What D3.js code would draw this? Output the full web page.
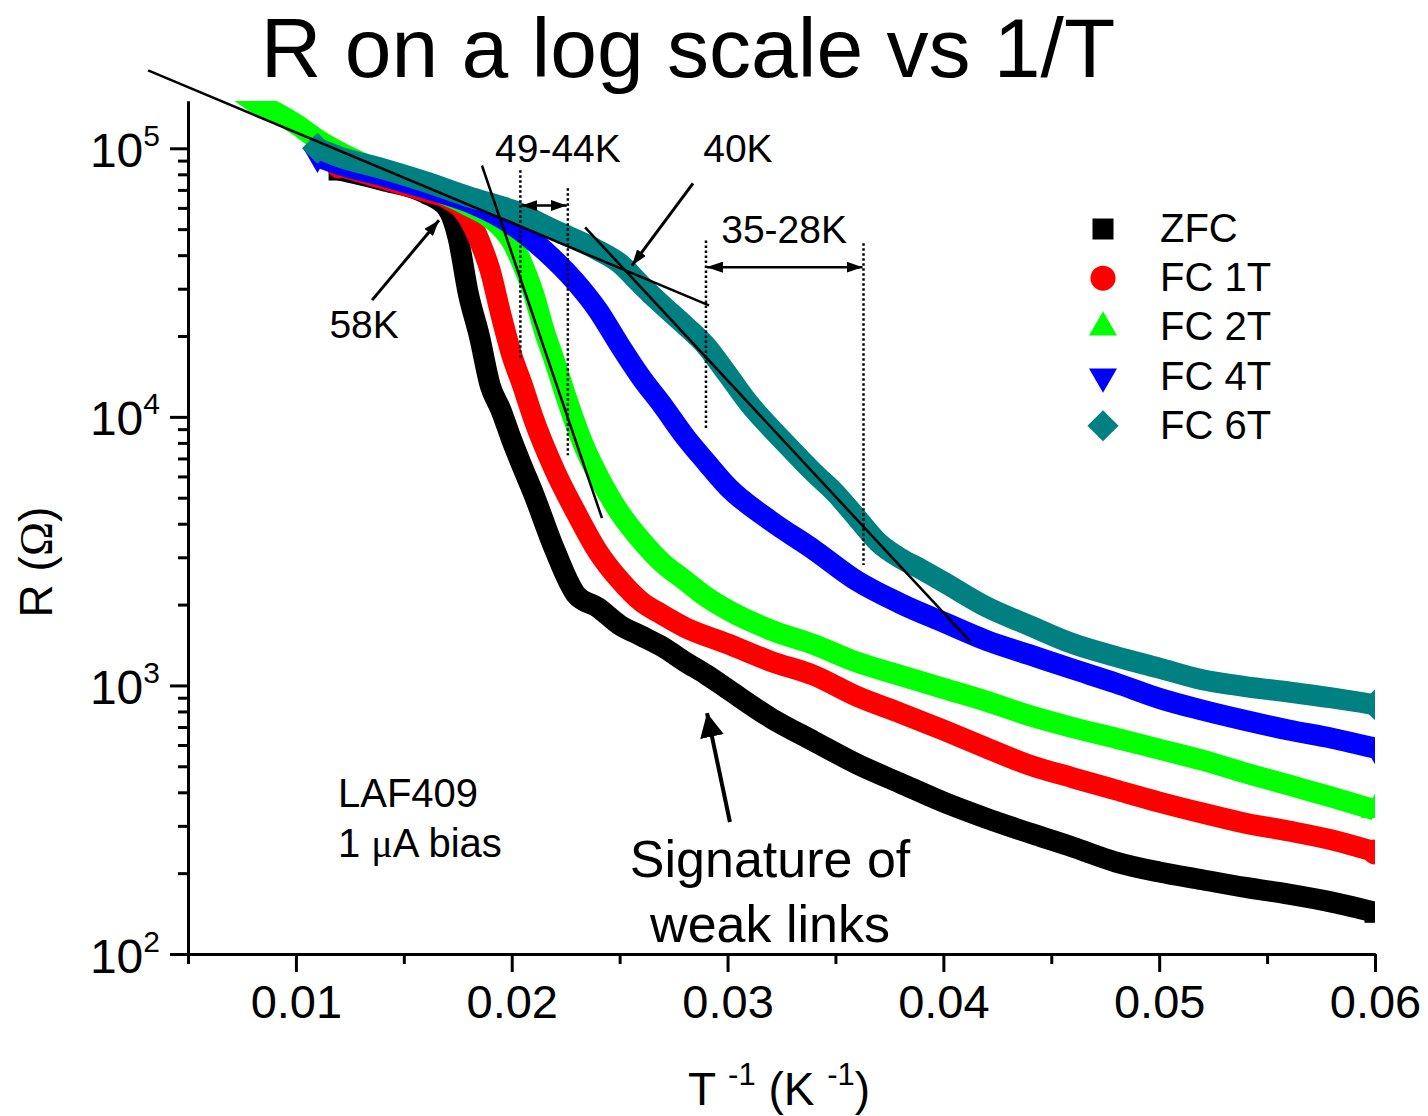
<!DOCTYPE html>
<html>
<head>
<meta charset="utf-8">
<script src="https://cdn.jsdelivr.net/npm/d3@7"></script>
<style>
body { margin: 0; background: #fff; }
text { font-family: "Liberation Sans", Arial, sans-serif; fill: #000; }
</style>
</head>
<body>
<script>
// values: inverse temperature (1/K) and resistance (ohm)
var invT_zfc = [0.012, 0.014, 0.016, 0.017, 0.0175, 0.018, 0.0185, 0.019, 0.0195, 0.020, 0.0205, 0.021, 0.022, 0.023, 0.024, 0.025, 0.026, 0.027, 0.028, 0.029, 0.030, 0.032, 0.034, 0.036, 0.038, 0.040, 0.042, 0.044, 0.046, 0.048, 0.050, 0.052, 0.054, 0.056, 0.058, 0.060];
var R_zfc = [83000, 76000, 68000, 60000, 47000, 28500, 20000, 13100, 10600, 8200, 6500, 5200, 3190, 2170, 1950, 1680, 1530, 1390, 1230, 1100, 970, 757, 620, 510, 433, 368, 320, 282, 250, 220, 202, 189, 177, 167, 156, 143];

var invT_1T = [0.012, 0.014, 0.016, 0.017, 0.018, 0.0185, 0.019, 0.0195, 0.020, 0.0205, 0.021, 0.022, 0.023, 0.024, 0.025, 0.026, 0.027, 0.028, 0.030, 0.032, 0.034, 0.036, 0.038, 0.040, 0.042, 0.044, 0.046, 0.048, 0.050, 0.052, 0.054, 0.056, 0.058, 0.060];
var R_1T = [86000, 77000, 69000, 65000, 55000, 45400, 35100, 24000, 17000, 13100, 9900, 6300, 4370, 3140, 2470, 2050, 1830, 1650, 1430, 1230, 1090, 910, 790, 682, 585, 505, 453, 408, 368, 335, 307, 287, 266, 240];

var invT_2T = [0.007, 0.0075, 0.008, 0.009, 0.010, 0.011, 0.012, 0.014, 0.016, 0.018, 0.019, 0.020, 0.0205, 0.021, 0.0215, 0.022, 0.0225, 0.023, 0.0235, 0.024, 0.025, 0.026, 0.027, 0.028, 0.029, 0.030, 0.032, 0.034, 0.036, 0.038, 0.040, 0.042, 0.044, 0.046, 0.048, 0.050, 0.052, 0.054, 0.056, 0.058, 0.060];
var R_2T = [170000, 160000, 150000, 137000, 123000, 108000, 97000, 82000, 72000, 61000, 55000, 45000, 37000, 29000, 21000, 16000, 12000, 9200, 7300, 6050, 4400, 3470, 2850, 2470, 2140, 1910, 1610, 1420, 1220, 1090, 975, 873, 772, 697, 636, 579, 527, 472, 426, 384, 344];

var invT_4T = [0.011, 0.012, 0.014, 0.016, 0.018, 0.020, 0.0215, 0.023, 0.024, 0.025, 0.026, 0.027, 0.028, 0.029, 0.030, 0.032, 0.034, 0.036, 0.038, 0.040, 0.042, 0.044, 0.046, 0.048, 0.050, 0.052, 0.054, 0.056, 0.058, 0.060];
var R_4T = [93000, 87000, 79000, 71000, 63000, 52000, 41700, 31500, 24900, 18500, 14000, 11000, 8500, 6800, 5500, 4100, 3200, 2450, 2020, 1720, 1470, 1300, 1150, 1020, 895, 809, 740, 682, 636, 584];

var invT_6T = [0.011, 0.012, 0.014, 0.016, 0.018, 0.020, 0.022, 0.024, 0.025, 0.026, 0.027, 0.028, 0.029, 0.030, 0.031, 0.032, 0.033, 0.034, 0.035, 0.036, 0.037, 0.038, 0.039, 0.040, 0.042, 0.044, 0.046, 0.048, 0.050, 0.052, 0.054, 0.056, 0.058, 0.060];
var R_6T = [100000, 93000, 84000, 75000, 66000, 59000, 49500, 41700, 37300, 31000, 26000, 22000, 18400, 14400, 11200, 9100, 7500, 6200, 5200, 4200, 3400, 2980, 2700, 2430, 1960, 1670, 1430, 1280, 1160, 1050, 990, 945, 898, 847];

var seriesNames = ["ZFC", "FC 1T", "FC 2T", "FC 4T", "FC 6T"];
var seriesColors = ["#000000", "#ff0000", "#00ff00", "#0000ff", "#008080"];
var seriesShapes = ["square", "circle", "up", "down", "diamond"];

var xMajor = [0.01, 0.02, 0.03, 0.04, 0.05, 0.06];
var xMinor = [0.005, 0.015, 0.025, 0.035, 0.045, 0.055];
var yMajor = [1e2, 1e3, 1e4, 1e5];

// guide lines drawn on the figure, in data units [invT, R]
var fitLines = [
  [[0.00315, 195000], [0.02914, 26000]],
  [[0.01862, 86300], [0.02418, 4200]],
  [[0.02340, 50800], [0.04123, 1462]]
];
var dottedLines = [[0.0204, 82800, 16300], [0.0226, 71000, 7190], [0.0290, 45400, 8910], [0.0363, 44300, 2810]];
var spanArrows = [[0.0204, 0.0226, 61200], [0.0290, 0.0363, 36100]];
var pointerArrows = [
  [[0.01353, 27200], [0.01663, 54000], "small"],
  [[0.0284, 74000], [0.02557, 36600], "small"],
  [[0.03011, 310], [0.02905, 789], "big"]
];
var notes = [
  ["58K", 0.01316, 19600, 39, "middle"],
  ["49-44K", 0.02214, 88700, 39, "middle"],
  ["40K", 0.03048, 88700, 39, "middle"],
  ["35-28K", 0.03262, 44300, 39, "middle"],
  ["LAF409", 0.01195, 352, 40, "start"],
  ["Signature of", 0.03197, 193, 52, "middle"],
  ["weak links", 0.03197, 111, 52, "middle"]
];

var W = 1428, H = 1116;
var m = {l: 188, r: 53, t: 101, b: 162};

var x = d3.scaleLinear().domain([0.005, 0.06]).range([m.l, W - m.r]);
var y = d3.scaleLog().domain([100, 150000]).range([H - m.b, m.t]);

var svg = d3.select("body").append("svg").attr("width", W).attr("height", H);
var defs = svg.append("defs");
defs.append("clipPath").attr("id", "plot").append("rect")
  .attr("x", m.l).attr("y", m.t).attr("width", W - m.l - m.r).attr("height", H - m.t - m.b);

function head(id, len, wid) {
  defs.append("marker").attr("id", id)
    .attr("markerUnits", "userSpaceOnUse")
    .attr("viewBox", (-len) + " " + (-wid / 2) + " " + len + " " + wid)
    .attr("refX", 0).attr("refY", 0)
    .attr("markerWidth", len).attr("markerHeight", wid)
    .attr("orient", "auto-start-reverse")
    .append("path")
    .attr("d", "M0,0L" + (-len) + "," + (-wid / 2) + "L" + (-len) + "," + (wid / 2) + "Z")
    .attr("fill", "#000");
}
head("small", 16, 11);
head("big", 24, 24);

function symbolPath(shape) {
  if (shape == "square") return d3.symbol().type(d3.symbolSquare).size(441)();
  if (shape == "circle") return d3.symbol().type(d3.symbolCircle).size(491)();
  if (shape == "diamond") return d3.symbol().type(d3.symbolSquare).size(484)();
  return d3.symbol().type(d3.symbolTriangle).size(340)();
}
function symbolRot(shape) {
  if (shape == "diamond") return 45;
  if (shape == "down") return 180;
  return 0;
}

// data bands: dense symbols in the original, drawn as a thick line plus end symbols
var allX = [invT_zfc, invT_1T, invT_2T, invT_4T, invT_6T];
var allR = [R_zfc, R_1T, R_2T, R_4T, R_6T];
var line = d3.line().x(function(d) { return x(d[0]); }).y(function(d) { return y(d[1]); }).curve(d3.curveMonotoneX);

var dataG = svg.append("g").attr("clip-path", "url(#plot)");
for (var i = 0; i < allX.length; i++) {
  var pts = d3.zip(allX[i], allR[i]);
  dataG.append("path").datum(pts)
    .attr("d", line)
    .attr("fill", "none")
    .attr("stroke", seriesColors[i])
    .attr("stroke-width", 21)
    .attr("stroke-linejoin", "round");
  dataG.selectAll(null).data([pts[0], pts[pts.length - 1]]).enter().append("path")
    .attr("d", symbolPath(seriesShapes[i]))
    .attr("transform", function(d) { return "translate(" + x(d[0]) + "," + y(d[1]) + ") rotate(" + symbolRot(seriesShapes[i]) + ")"; })
    .attr("fill", seriesColors[i]);
}

// axes
var xAxis = svg.append("g").attr("transform", "translate(0," + (H - m.b) + ")")
  .call(d3.axisBottom(x).tickValues(xMajor).tickSize(18).tickSizeOuter(0).tickFormat(function(d) { return d.toFixed(2); }));
xAxis.selectAll("text").attr("y", 64).attr("dy", 0).attr("font-size", 47).attr("font-family", "Liberation Sans, Arial, sans-serif");
svg.append("g").attr("transform", "translate(0," + (H - m.b) + ")")
  .call(d3.axisBottom(x).tickValues(xMinor).tickSize(10).tickSizeOuter(0).tickFormat(""));

var yMinor = [];
[100, 1000, 10000].forEach(function(dec) {
  for (var k = 2; k <= 9; k++) yMinor.push(dec * k);
});
var yAxis = svg.append("g").attr("transform", "translate(" + m.l + ",0)")
  .call(d3.axisLeft(y).tickValues(yMajor).tickSize(18).tickSizeOuter(0).tickFormat(""));
svg.append("g").attr("transform", "translate(" + m.l + ",0)")
  .call(d3.axisLeft(y).tickValues(yMinor).tickSize(10).tickSizeOuter(0).tickFormat(""));

svg.selectAll(".domain").attr("stroke-width", 3);
svg.selectAll(".tick line").attr("stroke-width", 3);

yAxis.selectAll(".tick").each(function(d) {
  var t = d3.select(this).append("text")
    .attr("x", -28).attr("y", 18)
    .attr("text-anchor", "end")
    .attr("font-size", 48)
    .attr("fill", "#000");
  t.append("tspan").text("10");
  t.append("tspan").attr("font-size", 30).attr("dy", -21).text(Math.round(Math.log10(d)));
});

// axis titles
var yt = svg.append("text").attr("transform", "translate(52,562) rotate(-90)")
  .attr("text-anchor", "middle").attr("font-size", 46);
yt.append("tspan").text("R (");
yt.append("tspan").attr("font-family", "Liberation Serif, serif").text("\u03A9");
yt.append("tspan").text(")");

var xt = svg.append("text").attr("x", 688).attr("y", 1105).attr("font-size", 46);
xt.append("tspan").text("T ");
xt.append("tspan").attr("font-size", 31).attr("dy", -20).text("-1");
xt.append("tspan").attr("dy", 20).text(" (K ");
xt.append("tspan").attr("font-size", 31).attr("dy", -20).text("-1");
xt.append("tspan").attr("dy", 20).text(")");

// title
svg.append("text").attr("x", 688).attr("y", 77).attr("text-anchor", "middle")
  .attr("font-size", 84).text("R on a log scale vs 1/T");

// guide lines and arrows
var ann = svg.append("g");
fitLines.forEach(function(f) {
  ann.append("line")
    .attr("x1", x(f[0][0])).attr("y1", y(f[0][1]))
    .attr("x2", x(f[1][0])).attr("y2", y(f[1][1]))
    .attr("stroke", "#000").attr("stroke-width", 2.5);
});
dottedLines.forEach(function(d) {
  ann.append("line")
    .attr("x1", x(d[0])).attr("y1", y(d[1]))
    .attr("x2", x(d[0])).attr("y2", y(d[2]))
    .attr("stroke", "#000").attr("stroke-width", 2.5).attr("stroke-dasharray", "2.5,2.5");
});
spanArrows.forEach(function(s) {
  ann.append("line")
    .attr("x1", x(s[0]) + 1).attr("y1", y(s[2]))
    .attr("x2", x(s[1]) - 1).attr("y2", y(s[2]))
    .attr("stroke", "#000").attr("stroke-width", 2.5)
    .attr("marker-start", "url(#small)").attr("marker-end", "url(#small)");
});
pointerArrows.forEach(function(p) {
  ann.append("line")
    .attr("x1", x(p[0][0])).attr("y1", y(p[0][1]))
    .attr("x2", x(p[1][0])).attr("y2", y(p[1][1]))
    .attr("stroke", "#000").attr("stroke-width", p[2] == "big" ? 4 : 3)
    .attr("marker-end", "url(#" + p[2] + ")");
});
notes.forEach(function(n) {
  ann.append("text").attr("x", x(n[1])).attr("y", y(n[2]))
    .attr("text-anchor", n[4]).attr("font-size", n[3]).text(n[0]);
});
var bias = ann.append("text").attr("x", x(0.01195)).attr("y", y(230)).attr("font-size", 40);
bias.append("tspan").text("1 ");
bias.append("tspan").attr("font-family", "Liberation Serif, serif").text("\u03BC");
bias.append("tspan").text("A bias");

// legend
var leg = svg.append("g").attr("transform", "translate(1103,229)");
seriesNames.forEach(function(name, i) {
  var row = leg.append("g").attr("transform", "translate(0," + (i * 49.2) + ")");
  row.append("path").attr("d", symbolPath(seriesShapes[i]))
    .attr("transform", "rotate(" + symbolRot(seriesShapes[i]) + ")")
    .attr("fill", seriesColors[i]);
  row.append("text").attr("x", 57).attr("y", 13).attr("font-size", 40).text(name);
});
</script>
</body>
</html>
